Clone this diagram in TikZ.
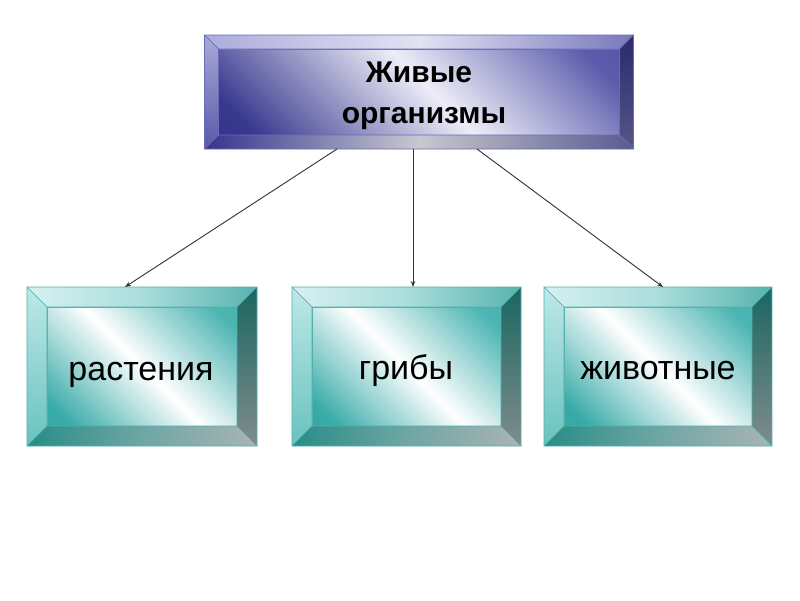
\documentclass[tikz,border=0pt]{standalone}
\usepackage{fontspec}
\setmainfont{Liberation Sans}
\usetikzlibrary{calc,arrows.meta}
\definecolor{tealedge}{HTML}{4FB0AC}
\definecolor{blueedge}{HTML}{6A6ABB}
\pgfdeclarehorizontalshading{tealdiag}{100bp}{rgb(0bp)=(0.18,0.64,0.63); rgb(20bp)=(0.22,0.67,0.66); rgb(50bp)=(1,1,1); rgb(80bp)=(0.30,0.71,0.70); rgb(100bp)=(0.26,0.69,0.68)}
\pgfdeclarehorizontalshading{bluediag}{100bp}{rgb(0bp)=(0.18,0.18,0.52); rgb(20bp)=(0.22,0.22,0.56); rgb(52bp)=(0.93,0.93,0.97); rgb(80bp)=(0.36,0.36,0.68); rgb(100bp)=(0.28,0.28,0.64)}
\newcommand\bevelbox[3]{%
  \path[#3face] ([xshift=#2,yshift=-#2]#1.north west) rectangle ([xshift=-#2,yshift=#2]#1.south east);
  \path[#3top] (#1.north west) -- (#1.north east) -- ([xshift=-#2,yshift=-#2]#1.north east) -- ([xshift=#2,yshift=-#2]#1.north west) -- cycle;
  \path[#3left] (#1.north west) -- ([xshift=#2,yshift=-#2]#1.north west) -- ([xshift=#2,yshift=#2]#1.south west) -- (#1.south west) -- cycle;
  \path[#3right] (#1.north east) -- (#1.south east) -- ([xshift=-#2,yshift=#2]#1.south east) -- ([xshift=-#2,yshift=-#2]#1.north east) -- cycle;
  \path[#3bottom] (#1.south west) -- ([xshift=#2,yshift=#2]#1.south west) -- ([xshift=-#2,yshift=#2]#1.south east) -- (#1.south east) -- cycle;
}
\tikzset{
  boxshape/.style={rectangle, inner sep=0pt, outer sep=0pt},
  tealline/.style={draw=tealedge, line width=0.6pt, line join=round},
  blueline/.style={draw=blueedge, line width=0.6pt, line join=round},
  tealface/.style={tealline, shade, shading=tealdiag, shading angle=45},
  tealtop/.style={tealline, left color={rgb,255:red,214;green,240;blue,240}, right color={rgb,255:red,88;green,178;blue,174}, middle color={rgb,255:red,170;green,222;blue,220}},
  tealleft/.style={tealline, top color={rgb,255:red,190;green,232;blue,232}, bottom color={rgb,255:red,104;green,194;blue,190}},
  tealright/.style={tealline, top color={rgb,255:red,26;green,102;blue,96}, bottom color={rgb,255:red,128;green,140;blue,140}},
  tealbottom/.style={tealline, left color={rgb,255:red,40;green,140;blue,134}, right color={rgb,255:red,170;green,180;blue,180}, middle color={rgb,255:red,110;green,166;blue,164}},
  blueface/.style={blueline, shade, shading=bluediag, shading angle=45},
  bluetop/.style={blueline, left color={rgb,255:red,172;green,172;blue,220}, right color={rgb,255:red,120;green,120;blue,188}, middle color={rgb,255:red,226;green,226;blue,244}},
  blueleft/.style={blueline, top color={rgb,255:red,170;green,170;blue,216}, bottom color={rgb,255:red,88;green,88;blue,168}},
  blueright/.style={blueline, top color={rgb,255:red,42;green,42;blue,110}, bottom color={rgb,255:red,86;green,86;blue,136}},
  bluebottom/.style={blueline, left color={rgb,255:red,52;green,52;blue,142}, right color={rgb,255:red,90;green,90;blue,144}, middle color={rgb,255:red,200;green,200;blue,206}},
  conn/.style={draw={rgb,255:red,50;green,50;blue,50}, line width=0.9pt, -{Stealth[length=6pt,width=4.5pt]}},
  toptext/.style={font=\fontsize{30}{41}\selectfont\bfseries, align=center, inner sep=0pt},
  bottext/.style={font=\fontsize{34}{40}\selectfont, inner sep=0pt, anchor=base},
}
\begin{document}
\begin{tikzpicture}[x=1pt,y=-1pt]
  \useasboundingbox[fill=white] (0,0) rectangle (800,600);
  \node[boxshape, minimum width=429pt, minimum height=114pt] (top) at (419,92) {};
  \node[boxshape, minimum width=230pt, minimum height=159pt] (p1) at (142,366.5) {};
  \node[boxshape, minimum width=229pt, minimum height=159pt] (p2) at (406.5,366.5) {};
  \node[boxshape, minimum width=228pt, minimum height=159pt] (p3) at (658,366.5) {};
  \bevelbox{top}{14pt}{blue}
  \bevelbox{p1}{20pt}{teal}
  \bevelbox{p2}{20pt}{teal}
  \bevelbox{p3}{20pt}{teal}
  \node[toptext] (ttop) at (424,96) {Живые\hspace*{10pt}\\организмы};
  \node[bottext] (t1) at (141,380) {растения};
  \node[bottext] (t2) at (406,379) {грибы};
  \node[bottext] (t3) at (658,379) {животные};
  \draw[conn] ([xshift=-82pt]top.south) -- ([xshift=-17pt]p1.north);
  \draw[conn] ([xshift=-6pt]top.south) -- ([xshift=6.5pt]p2.north);
  \draw[conn] ([xshift=58pt]top.south) -- ([xshift=5pt]p3.north);
\end{tikzpicture}
\end{document}
